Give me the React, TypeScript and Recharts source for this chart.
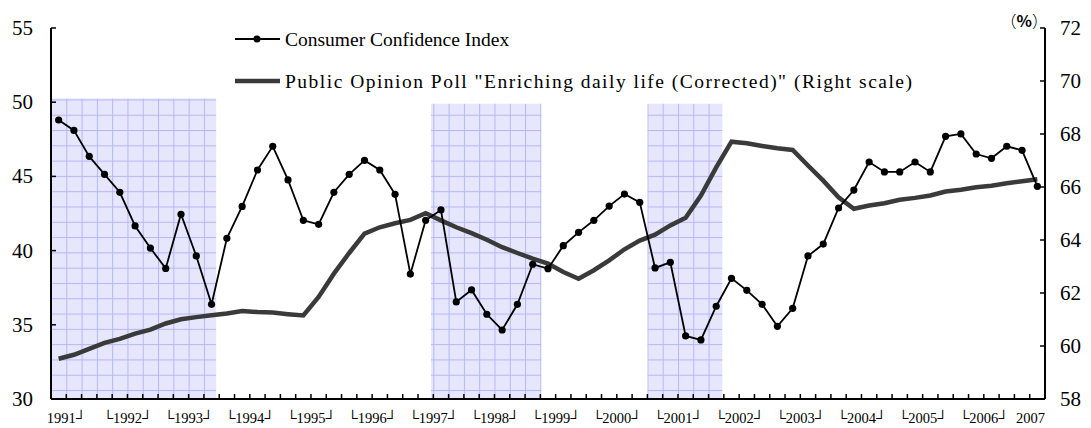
import { Legend, Line, LineChart, ReferenceArea, XAxis, YAxis } from "recharts";

// quarterly, 1991Q1 .. 2007Q1
const quarters: string[] = [];
for (let y = 1991; y <= 2006; y++) for (let q = 1; q <= 4; q++) quarters.push(`${y}Q${q}`);
quarters.push("2007Q1");

const cciValues = [
  48.8, 48.1, 46.35, 45.14, 43.93, 41.66, 40.17, 38.8, 42.45, 39.64, 36.38, 40.83, 42.98,
  45.43, 47.03, 44.76, 42.04, 41.77, 43.93, 45.14, 46.08, 45.43, 43.79, 38.42, 42.04, 42.74,
  36.54, 37.35, 35.71, 34.65, 36.38, 39.08, 38.78, 40.33, 41.23, 42.04, 43.0, 43.81, 43.25,
  38.83, 39.21, 34.25, 33.98, 36.25, 38.13, 37.32, 36.38, 34.9, 36.11, 39.64, 40.44, 42.87,
  44.08, 45.97, 45.3, 45.3, 45.97, 45.3, 47.7, 47.86, 46.51, 46.22, 47.03, 46.76, 44.33,
];

const pollValues = [
  59.52, 59.67, 59.89, 60.12, 60.27, 60.47, 60.62, 60.85, 61.01, 61.09, 61.16, 61.23, 61.32,
  61.28, 61.26, 61.2, 61.15, 61.85, 62.73, 63.51, 64.24, 64.48, 64.63, 64.76, 65.01, 64.74,
  64.48, 64.26, 64.01, 63.73, 63.51, 63.3, 63.11, 62.79, 62.54, 62.86, 63.23, 63.65, 63.98,
  64.2, 64.55, 64.84, 65.68, 66.74, 67.71, 67.65, 67.55, 67.46, 67.4, 66.81, 66.24, 65.61,
  65.18, 65.3, 65.39, 65.52, 65.59, 65.68, 65.83, 65.9, 65.99, 66.05, 66.14, 66.22, 66.29,
];

const yearLabels = [
  "1991┘", "└1992┘", "└1993┘", "└1994┘", "└1995┘", "└1996┘", "└1997┘", "└1998┘", "└1999┘",
  "└2000┘", "└2001┘", "└2002┘", "└2003┘", "└2004┘", "└2005┘", "└2006┘", "2007",
];

const leftTicks = [30, 35, 40, 45, 50, 55];
const rightTicks = [58, 60, 62, 64, 66, 68, 70, 72];

// recession periods, in quarters from 1991Q1, with the left-scale top of each band
const recessions = [
  { from: 0, to: 10.8, top: 50.25 },
  { from: 24.85, to: 32.07, top: 49.9 },
  { from: 39.0, to: 43.9, top: 49.9 },
];

const data = quarters.map((q, i) => ({ q, pos: i + 0.5, cci: cciValues[i], poll: pollValues[i] }));
const quarterTicks = Array.from({ length: quarters.length + 1 }, (_, i) => i);

const serif = "'Liberation Serif', 'Times New Roman', serif";
const QW = 994 / 65;

function QuarterTick({ x, y, payload }: any) {
  const t = payload.value as number;
  const idx = (t - 1) / 4;
  const label = Number.isInteger(idx) ? yearLabels[idx] : null;
  const last = idx === yearLabels.length - 1;
  return (
    <g>
      {t > 0 && t < quarters.length && <line x1={x} x2={x} y1={y} y2={y - 5} stroke='#000' strokeWidth={1.5} />}
      {label && (
        <text x={x} y={y + 24} textAnchor={last ? "end" : "middle"} fontSize={14.5} fontFamily={serif} fill='#000'>
          {label}
        </text>
      )}
    </g>
  );
}

function LeftTick({ x, y, payload }: any) {
  return (
    <g>
      <line x1={x} x2={x + 5} y1={y} y2={y} stroke='#000' strokeWidth={1.5} />
      <text x={x - 18} y={y} textAnchor='end' dominantBaseline='central' fontSize={21} fontFamily={serif} fill='#000'>
        {payload.value}
      </text>
    </g>
  );
}

function RightTick({ x, y, payload }: any) {
  return (
    <g>
      <line x1={x} x2={x - 5} y1={y} y2={y} stroke='#000' strokeWidth={1.5} />
      <text x={x + 15} y={y} textAnchor='start' dominantBaseline='central' fontSize={21} fontFamily={serif} fill='#000'>
        {payload.value}
      </text>
    </g>
  );
}

function ChartLegend() {
  return (
    <svg width={861} height={90} style={{ display: "block" }}>
      <line x1={5} x2={50} y1={34} y2={34} stroke='#000' strokeWidth={1.8} />
      <circle cx={27} cy={34} r={3.5} fill='#000' />
      <text x={55} y={34} dominantBaseline='central' fontSize={19.5} fontFamily={serif} fill='#000'>
        Consumer Confidence Index
      </text>
      <line x1={5} x2={50} y1={76} y2={76} stroke='#3a3a3a' strokeWidth={4.5} />
      <text
        x={55}
        y={76}
        dominantBaseline='central'
        fontSize={19.5}
        fontFamily={serif}
        fill='#000'
        textLength={627}
        lengthAdjust='spacing'
      >
        Public Opinion Poll "Enriching daily life (Corrected)" (Right scale)
      </text>
      <text x={818} y={15} textAnchor='end' dominantBaseline='central' fontSize={16} fontFamily="'Noto Sans CJK JP', sans-serif" fill='#000'>
        <tspan fontWeight='300'>（</tspan>
        <tspan fontWeight='bold'>%</tspan>
        <tspan fontWeight='300'>）</tspan>
      </text>
    </svg>
  );
}

export default function App() {
  return (
    <div style={{ position: "absolute", left: 0, top: 0, width: 1091, height: 428, background: "#fff" }}>
      <LineChart width={1091} height={428} data={data} margin={{ top: 28, right: 0, bottom: 0, left: 0 }}>
        <defs>
          <pattern id='recessGrid' patternUnits='userSpaceOnUse' x={51} y={390} width={QW} height={QW}>
            <rect x={0} y={0} width={QW} height={QW} fill='#E6E6FC' />
            <line x1={0} x2={QW} y1={0.5} y2={0.5} stroke='#B6B6F5' strokeWidth={1} />
            <line x1={0.5} x2={0.5} y1={0} y2={QW} stroke='#B6B6F5' strokeWidth={1} />
          </pattern>
        </defs>
        <XAxis
          dataKey='pos'
          type='number'
          domain={[0, quarters.length]}
          ticks={quarterTicks}
          interval={0}
          height={29}
          tickSize={0}
          tickMargin={0}
          tick={QuarterTick}
          axisLine={{ stroke: "#000", strokeWidth: 2 }}
        />
        <YAxis
          yAxisId='left'
          domain={[30, 55]}
          ticks={leftTicks}
          width={51}
          tickSize={0}
          tickMargin={0}
          tick={LeftTick}
          axisLine={{ stroke: "#000", strokeWidth: 2 }}
        />
        <YAxis
          yAxisId='right'
          orientation='right'
          domain={[58, 72]}
          ticks={rightTicks}
          width={46}
          tickSize={0}
          tickMargin={0}
          tick={RightTick}
          axisLine={{ stroke: "#000", strokeWidth: 2 }}
        />
        {recessions.map((r, i) => (
          <ReferenceArea key={i} yAxisId='left' x1={r.from} x2={r.to} y1={30} y2={r.top} fill='url(#recessGrid)' fillOpacity={1} stroke='none' />
        ))}
        <Line
          yAxisId='right'
          dataKey='poll'
          type='linear'
          stroke='#3a3a3a'
          strokeWidth={4.5}
          dot={false}
          isAnimationActive={false}
        />
        <Line
          yAxisId='left'
          dataKey='cci'
          type='linear'
          stroke='#000'
          strokeWidth={1.8}
          dot={{ r: 3.6, fill: "#000", stroke: "none" }}
          isAnimationActive={false}
        />
        <Legend
          layout='horizontal'
          verticalAlign='middle'
          align='center'
          wrapperStyle={{ left: 230, top: 5, width: 861 }}
          content={() => <ChartLegend />}
        />
      </LineChart>
    </div>
  );
}
